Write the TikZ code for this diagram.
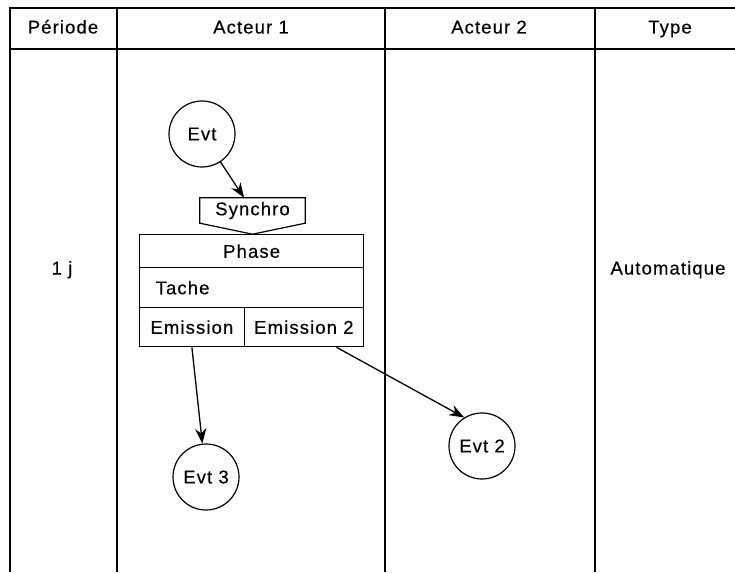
\documentclass[tikz,border=0pt]{standalone}
\usepackage{fontspec}
\setmainfont{Liberation Sans}[LetterSpace=6,FakeBold=0.3]
\usetikzlibrary{arrows.meta,calc}
\begin{document}
\begin{tikzpicture}[x=1pt,y=-1pt,
  every node/.style={font=\fontsize{18.5}{21}\selectfont},
  label/.style={text height=13pt,text depth=4pt},
  grid/.style={line width=1.6pt,black},
  cell/.style={draw,line width=1.3pt,rectangle,inner sep=0pt,anchor=north west},
  evtnode/.style={draw,line width=1.2pt,circle,minimum size=66pt,inner sep=0pt},
  flow/.style={line width=1.3pt,-{Stealth[length=15pt,width=11pt]}}]
\useasboundingbox (0,0) rectangle (735,572);
\fill[white] (0,0) rectangle (735,572);

% swimlane table
\draw[grid] (10,572) -- (10,8) -- (735,8);
\draw[grid] (10,49) -- (735,49);
\draw[grid] (117,8) -- (117,572);
\draw[grid] (385,8) -- (385,572);
\draw[grid] (595,8) -- (595,572);

% header labels
\node[label] (hper)  at (63,29)  {Période};
\node[label] (hact1) at (251,29) {Acteur 1};
\node[label] (hact2) at (489,29) {Acteur 2};
\node[label] (htype) at (670,29) {Type};

% row content
\node[label] (per) at (62,270)  {1 j};
\node[label] (typ) at (668,270) {Automatique};

% events
\node[evtnode] (evt)  at (202,134) {Evt};
\node[evtnode] (evt3) at (206,477) {Evt 3};
\node[evtnode] (evt2) at (482,446) {Evt 2};

% synchronisation marker
\node[rectangle,inner sep=0pt,minimum width=105pt,minimum height=25pt] (sync) at (252.5,210.5) {Synchro};
\draw[line width=1.2pt] (sync.south west) -- (sync.north west) -- (sync.north east)
  -- (sync.south east) -- ($(sync.south)+(0,11)$) -- cycle;

% phase block
\node[cell,minimum width=224pt,minimum height=33pt] (phase) at (139,234) {Phase};
\node[cell,minimum width=224pt,minimum height=40pt,text width=192pt,align=left,inner xsep=16pt] (tache) at (139,267) {Tache};
\node[cell,minimum width=104.5pt,minimum height=39pt] (em1) at (139,307) {Emission};
\node[cell,minimum width=119.5pt,minimum height=39pt] (em2) at (243.5,307) {Emission 2};
\coordinate (e2out) at ($(em2.south west)!0.77!(em2.south east)$);

% connectors
\draw[flow] (evt) -- (sync);
\draw[flow] (em1.south) -- (evt3);
\draw[flow] (e2out) -- (evt2.122);
\end{tikzpicture}
\end{document}
